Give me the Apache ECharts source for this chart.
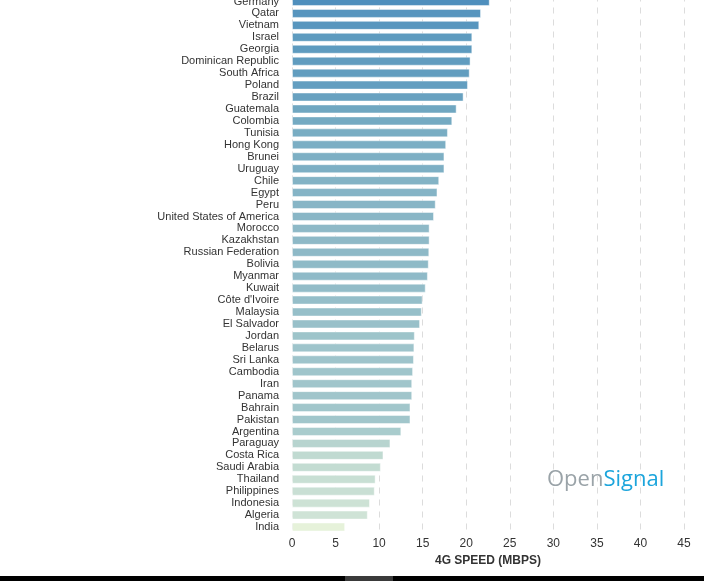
<!DOCTYPE html>
<html>
<head>
<meta charset="utf-8">
<script src="https://cdn.jsdelivr.net/npm/echarts@6/dist/echarts.min.js"></script>
<style>html,body{margin:0;padding:0;background:#fff;}#c{width:704px;height:581px;}</style>
</head>
<body>
<div id="c"></div>
<script>
const countries = ["Germany","Qatar","Vietnam","Israel","Georgia","Dominican Republic","South Africa","Poland","Brazil","Guatemala","Colombia","Tunisia","Hong Kong","Brunei","Uruguay","Chile","Egypt","Peru","United States of America","Morocco","Kazakhstan","Russian Federation","Bolivia","Myanmar","Kuwait","Côte d'Ivoire","Malaysia","El Salvador","Jordan","Belarus","Sri Lanka","Cambodia","Iran","Panama","Bahrain","Pakistan","Argentina","Paraguay","Costa Rica","Saudi Arabia","Thailand","Philippines","Indonesia","Algeria","India"];
const speeds = [22.7,21.7,21.5,20.7,20.7,20.5,20.4,20.2,19.7,18.9,18.4,17.9,17.7,17.5,17.5,16.9,16.7,16.5,16.3,15.8,15.8,15.76,15.7,15.6,15.35,15.0,14.9,14.7,14.1,14.05,14.0,13.9,13.8,13.8,13.6,13.6,12.55,11.3,10.5,10.2,9.6,9.5,8.95,8.7,6.1];
const xTicks = [0,5,10,15,20,25,30,35,40,45];
const axisTitle = "4G SPEED (MBPS)";

const chart = echarts.init(document.getElementById('c'), null, {renderer:'canvas'});
chart.setOption({
  animation:false,
  backgroundColor:'#fff',
  grid:{left:292,right:20,top:-4.5,bottom:48,outerBoundsMode:'none',containLabel:false},
  visualMap:{show:false,type:'continuous',min:6.1,max:22.7,dimension:0,seriesIndex:0,
    inRange:{color:['#e6f2da','#d3e5d7','#c3dcd2','#abcdcd','#9bc2ca','#87b5c6','#73a9c2','#5f9bbf','#4f8fbd']}},
  xAxis:{type:'value',min:xTicks[0],max:xTicks[xTicks.length-1],interval:5,
    axisLine:{show:false},axisTick:{show:false},
    splitLine:{show:true,lineStyle:{color:'#dcdcdc',type:[6,6],width:1}},
    axisLabel:{margin:5,color:'#333',fontSize:12,fontFamily:'Liberation Sans, Arial, sans-serif'},
    name:axisTitle,nameLocation:'middle',nameGap:22,
    nameTextStyle:{color:'#333',fontSize:12,fontWeight:'bold',fontFamily:'Liberation Sans, Arial, sans-serif'}},
  yAxis:{type:'category',data:countries,inverse:true,
    axisLine:{show:false},axisTick:{show:false},splitLine:{show:false},
    axisLabel:{margin:13,color:'#333',fontSize:11,interval:0,fontFamily:'Liberation Sans, Arial, sans-serif'}},
  series:[{type:'bar',data:speeds.map((v)=>v),barWidth:9,
    itemStyle:{borderColor:'rgba(255,255,255,0.45)',borderWidth:1}}],
  graphic:[
    {type:'text',left:547,top:469,style:{text:'{a|Open}{b|Signal}',rich:{
      a:{fill:'#9aa3a8',fontSize:22,fontFamily:'Open Sans, sans-serif'},
      b:{fill:'#1ca5dc',fontSize:22,fontFamily:'Open Sans, sans-serif'}}}},
    {type:'rect',shape:{x:0,y:576,width:704,height:5},style:{fill:'#000'}},
    {type:'rect',shape:{x:345,y:576,width:48,height:5},style:{fill:'#3a3a3a'}}
  ]
});
</script>
</body>
</html>
